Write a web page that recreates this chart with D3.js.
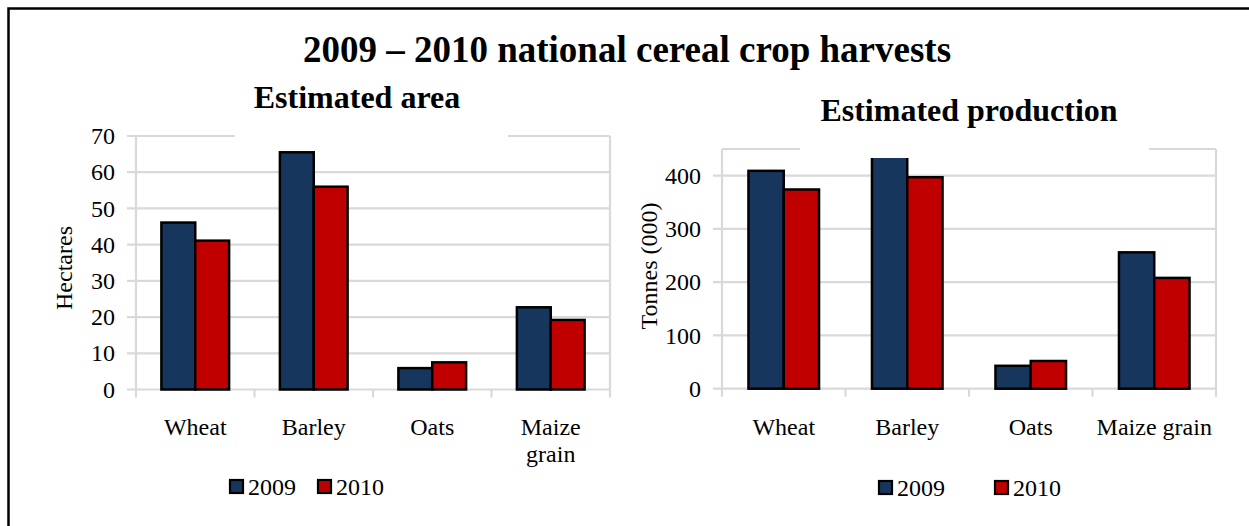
<!DOCTYPE html>
<html>
<head>
<meta charset="utf-8">
<script src="https://cdn.jsdelivr.net/npm/d3@7"></script>
<style>
  html, body { margin: 0; padding: 0; background: #fff; }
  svg { display: block; }
  text { font-family: "Liberation Serif", "Times New Roman", serif; fill: #000; }
</style>
</head>
<body>
<svg id="chart" width="1249" height="526"></svg>
<script>
// ---- data ----
const categories = ["Wheat", "Barley", "Oats", "Maize grain"];
const seriesNames = ["2009", "2010"];
const area2009 = [46.1, 65.5, 5.9, 22.7];
const area2010 = [41.1, 56.0, 7.5, 19.2];
const prod2009 = [409, 445, 43, 256];
const prod2010 = [374, 397, 52, 208];
const areaTicks = [0, 10, 20, 30, 40, 50, 60, 70];
const prodTicks = [0, 100, 200, 300, 400];

const colors = ["#17365d", "#c00000"];
const gridColor = "#d9d9d9";

const svg = d3.select("#chart");

// outer frame (left and top edges visible)
svg.append("rect").attr("x", 8.5).attr("y", 8.5).attr("width", 1300).attr("height", 600)
  .attr("fill", "none").attr("stroke", "#000").attr("stroke-width", 2.5);

// main title
svg.append("text").attr("x", 627).attr("y", 62).attr("text-anchor", "middle")
  .attr("font-weight", "bold").attr("font-size", 37)
  .text("2009 \u2013 2010 national cereal crop harvests");

function drawChart(cfg) {
  const g = svg.append("g");
  const x = d3.scaleBand().domain(categories).range([cfg.left, cfg.right]).paddingInner(0).paddingOuter(0);
  const y = d3.scaleLinear().domain([0, cfg.max]).range([cfg.bottom, cfg.top]);
  const bw = x.bandwidth();
  const barW = bw / 3.5;
  const off = bw * 0.75 / 3.5;

  const clipId = "clip" + cfg.id;
  svg.append("clipPath").attr("id", clipId).append("rect")
    .attr("x", cfg.left).attr("y", cfg.top).attr("width", cfg.right - cfg.left).attr("height", cfg.bottom - cfg.top + 2);

  // gridlines (with outward tick marks)
  const grid = g.append("g");
  const gridVals = cfg.ticks.slice();
  grid.selectAll("line.grid").data(gridVals).join("line")
    .attr("x1", cfg.left - 9).attr("x2", cfg.right)
    .attr("y1", d => y(d)).attr("y2", d => y(d))
    .attr("stroke", gridColor).attr("stroke-width", 2.2);
  if (cfg.ticks[cfg.ticks.length - 1] !== cfg.max) {
    grid.append("line").attr("x1", cfg.left).attr("x2", cfg.right)
      .attr("y1", y(cfg.max)).attr("y2", y(cfg.max))
      .attr("stroke", gridColor).attr("stroke-width", 2.2);
  }
  // y axis line and right border
  grid.append("line").attr("x1", cfg.left).attr("x2", cfg.left).attr("y1", y(cfg.max)).attr("y2", cfg.bottom + 8)
    .attr("stroke", gridColor).attr("stroke-width", 2.2);
  grid.append("line").attr("x1", cfg.right).attr("x2", cfg.right).attr("y1", y(cfg.max)).attr("y2", cfg.bottom + 8)
    .attr("stroke", gridColor).attr("stroke-width", 2.2);
  // category boundary ticks
  const bounds = categories.map(c => x(c)).slice(1);
  grid.selectAll("line.ct").data(bounds).join("line")
    .attr("x1", d => d).attr("x2", d => d).attr("y1", cfg.bottom).attr("y2", cfg.bottom + 8)
    .attr("stroke", gridColor).attr("stroke-width", 2.2);

  // y tick labels
  g.append("g").selectAll("text").data(cfg.ticks).join("text")
    .attr("x", cfg.left - 21).attr("y", d => y(d)).attr("dy", "0.34em")
    .attr("text-anchor", "end").attr("font-size", 24).text(d => d);

  // bars
  const bars = g.append("g").attr("clip-path", `url(#${clipId})`);
  [cfg.s1, cfg.s2].forEach((vals, si) => {
    bars.selectAll("rect.s" + si).data(vals).join("rect")
      .attr("x", (d, i) => x(categories[i]) + off + si * barW)
      .attr("y", d => y(d))
      .attr("width", barW)
      .attr("height", d => cfg.bottom - y(d))
      .attr("fill", colors[si]).attr("stroke", "#000").attr("stroke-width", 2.5);
  });

  // x category labels
  const xl = g.append("g");
  categories.forEach(c => {
    const lines = cfg.wrap && c === "Maize grain" ? ["Maize", "grain"] : [c];
    const t = xl.append("text").attr("text-anchor", "middle").attr("font-size", 24);
    lines.forEach((ln, li) => {
      t.append("tspan").attr("x", x(c) + bw / 2).attr("y", 435 + li * 27).text(ln);
    });
  });

  // axis title
  g.append("text").attr("transform", `translate(${cfg.ytX},${cfg.ytY}) rotate(-90)`)
    .attr("text-anchor", "middle").attr("font-size", 24).text(cfg.yTitle);

  // chart title box + text
  g.append("rect").attr("x", cfg.tb[0]).attr("y", cfg.tb[1]).attr("width", cfg.tb[2]).attr("height", cfg.tb[3]).attr("fill", "#fff");
  g.append("text").attr("x", cfg.titleX).attr("y", cfg.titleY).attr("text-anchor", "middle")
    .attr("font-weight", "bold").attr("font-size", 32).text(cfg.title);

  // legend
  const lg = g.append("g");
  seriesNames.forEach((s, i) => {
    lg.append("rect").attr("x", cfg.leg[i][0]).attr("y", cfg.legY - 14).attr("width", 13).attr("height", 13)
      .attr("fill", colors[i]).attr("stroke", "#000").attr("stroke-width", 2.2);
    lg.append("text").attr("x", cfg.leg[i][0] + 18).attr("y", cfg.legY + 1).attr("font-size", 24).text(s);
  });
}

drawChart({
  id: "a", left: 136, right: 610, top: 136, bottom: 389.5, max: 70, ticks: areaTicks,
  s1: area2009, s2: area2010, wrap: true,
  yTitle: "Hectares", ytX: 72, ytY: 268,
  title: "Estimated area", titleX: 357, titleY: 108, tb: [235, 80, 273, 60],
  leg: [[230, 0], [318, 0]], legY: 494
});

drawChart({
  id: "p", left: 722, right: 1216, top: 149, bottom: 388.7, max: 450, ticks: prodTicks,
  s1: prod2009, s2: prod2010, wrap: false,
  yTitle: "Tonnes (000)", ytX: 657, ytY: 266,
  title: "Estimated production", titleX: 969, titleY: 121, tb: [800, 90, 349, 68],
  leg: [[879, 0], [995, 0]], legY: 495
});
</script>
</body>
</html>
